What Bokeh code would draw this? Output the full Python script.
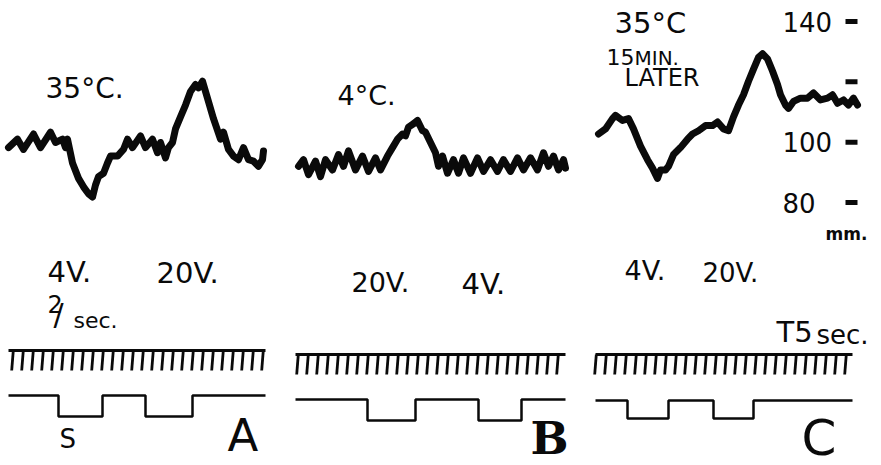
from bokeh.plotting import figure
from bokeh.models import Range1d
from bokeh.core.properties import value
from bokeh.embed import file_html
from bokeh.resources import INLINE

# ---------------- data ----------------
panel_names = ["A", "B", "C"]
temperature_labels = ["35°C.", "4°C.", "35°C"]

# blood pressure traces: time (s, from panel start) and pressure (mm Hg)
t_A = [0, 4.5, 7.5, 12.5, 16, 21, 23.5, 27, 28.5, 29.5, 32, 35, 37.5, 40, 42, 43.5, 45, 47.5,
       49.5, 51, 54.5, 57.5, 59.5, 62, 66, 68.5, 72, 74.5, 76, 78.5, 80, 82, 83.5, 86, 88.5, 91,
       93.5, 95, 97, 99.5, 102.5, 106, 107.5, 110, 112.5, 115, 117.5, 120, 122.5, 125, 127, 127.5]
p_A = [98.2, 101.0, 97.6, 102.7, 98.2, 103.3, 99.9, 101.0, 98.2, 101.0, 93.1, 88.0, 85.2, 82.9,
       81.8, 85.8, 88.6, 89.7, 93.1, 95.4, 95.4, 97.6, 101.0, 98.2, 102.1, 98.2, 101.0, 96.5, 99.9,
       94.8, 98.2, 99.9, 104.4, 108.4, 112.3, 116.8, 119.1, 118.0, 120.2, 114.6, 107.8, 101.0,
       103.3, 97.6, 95.4, 94.2, 98.2, 94.2, 93.7, 92.0, 94.2, 97.1]

t_B = [0.5, 3, 5.5, 9, 11.5, 14, 17.5, 20.5, 23, 25.5, 29, 32.5, 35.5, 39, 41.5, 45, 47.5, 50,
       52.5, 54, 55.5, 58, 60, 62.5, 64, 66.5, 69, 70.5, 72.5, 75, 78, 80.5, 83, 86.5, 90, 93,
       96.5, 100, 103, 106.5, 110, 113, 116.5, 120, 123, 125.5, 128, 130.5, 133, 134]
p_B = [92.0, 94.2, 89.2, 93.7, 88.6, 94.2, 90.8, 95.9, 92.0, 97.1, 90.8, 95.4, 90.3, 94.8, 90.8,
       95.4, 98.2, 101.0, 102.7, 102.1, 105.0, 106.1, 107.2, 103.8, 103.3, 99.9, 96.5, 92.0, 95.4,
       89.7, 94.2, 89.7, 94.8, 89.7, 94.8, 90.3, 94.2, 90.3, 94.2, 90.3, 94.8, 90.8, 94.8, 90.8,
       96.5, 92.0, 95.4, 90.8, 94.2, 91.4]

t_C = [1.5, 5, 8.5, 10, 13.5, 16.5, 19, 22.5, 26, 28.5, 31, 32.5, 35, 36.5, 39, 42.5, 46, 48.5,
       51.5, 55, 58.5, 61, 64, 66.5, 69, 71.5, 74, 76.5, 79, 81.5, 83.5, 86, 88.5, 91, 92.5, 95,
       96.5, 99, 102.5, 106, 109, 112.5, 116, 118.5, 121, 124, 126.5, 129, 131]
p_C = [102.7, 104.4, 107.8, 108.9, 107.2, 107.8, 104.4, 98.7, 94.2, 91.4, 88.0, 90.8, 90.8, 92.0,
       95.9, 98.2, 101.0, 102.7, 103.8, 105.5, 105.5, 106.7, 104.4, 103.8, 108.4, 112.3, 115.7,
       120.2, 124.2, 128.1, 129.3, 127.6, 123.6, 119.1, 115.7, 112.3, 111.2, 113.5, 114.6, 114.6,
       116.3, 114.0, 114.6, 115.7, 112.9, 114.0, 112.3, 114.6, 112.3]

# stimulation periods (s from panel start) and voltages
stim_on_A = [25, 68.5]
stim_off_A = [47, 92]
volts_A = ["4V.", "20V."]
stim_on_B = [35, 90.5]
stim_off_B = [59, 112]
volts_B = ["20V.", "4V."]
stim_on_C = [16, 59]
stim_off_C = [36.5, 79]
volts_C = ["4V.", "20V."]

# record length (s) and time marks (s) per panel
record_start = [0, -1, 0]
record_end = [128.5, 134, 128.5]
first_mark = [2, 0, 0]
last_mark = [127, 130, 125]
time_mark_interval = 5  # T 5 sec.

# pressure scale
scale_mm = [140, 120, 100, 80]
scale_labels = ["140", "", "100", "80"]

# ---------------- layout helpers ----------------
W, H = 881, 465
ORIGIN = 0
PX_PER_S = 2.0
MM_Y0, PX_PER_MM = 21.0, 3.017


def X(px):
    return (px - 8) / PX_PER_S


def Y(py):
    return 140 - (py - MM_Y0) / PX_PER_MM


panel_offset = [0, 144.5, 293.5]
timeline_px = [350, 354, 354]
stim_hi_px = [395, 399, 400]
stim_lo_px = [416, 420, 418]

p = figure(width=W, height=H, x_range=Range1d(X(ORIGIN), X(ORIGIN + W)),
           y_range=Range1d(Y(ORIGIN + H), Y(ORIGIN)),
           output_backend="svg", toolbar_location=None, min_border=0,
           x_axis_location=None, y_axis_location=None)
p.grid.visible = False
p.outline_line_color = None
p.background_fill_color = "white"
p.border_fill_color = "white"

INK = "#0a0a0a"
FONT = "DejaVu Sans"


def txt(s, px, py_mid, size, font=FONT, style="normal", align="left"):
    p.text(x=[X(px)], y=[Y(py_mid)], text=[s], text_font=value(font), text_font_size=f"{size}px",
           text_font_style=style, text_align=align, text_baseline="middle", text_color=INK)


traces = [(t_A, p_A), (t_B, p_B), (t_C, p_C)]
stims = [(stim_on_A, stim_off_A), (stim_on_B, stim_off_B), (stim_on_C, stim_off_C)]

for i in range(3):
    off = panel_offset[i]
    tt, pp = traces[i]
    p.line([off + t for t in tt], pp, line_color=INK, line_width=7, line_join="round", line_cap="round")

    # time marker line with 5 s ticks
    ly = Y(timeline_px[i])
    ty = Y(timeline_px[i] + 20)
    p.line([off + record_start[i], off + record_end[i]], [ly, ly], line_color=INK, line_width=3)
    marks = list(range(first_mark[i], last_mark[i] + 1, time_mark_interval))
    p.segment(x0=[off + m + 0.4 for m in marks], y0=[ly] * len(marks),
              x1=[off + m - 0.4 for m in marks], y1=[ty] * len(marks),
              line_color=INK, line_width=2.8)

    # stimulus signal
    hi, lo = Y(stim_hi_px[i]), Y(stim_lo_px[i])
    on, offt = stims[i]
    xs = [off + record_start[i]]
    ys = [hi]
    for a, b in zip(on, offt):
        xs += [off + a, off + a, off + b, off + b]
        ys += [hi, lo, lo, hi]
    xs.append(off + record_end[i])
    ys.append(hi)
    p.line(xs, ys, line_color=INK, line_width=2.5)

# temperature labels
txt(temperature_labels[0], 45, 88, 28)
txt(temperature_labels[1], 337, 95, 27)
txt(temperature_labels[2], 614, 22, 29)
txt("15", 606, 56, 22)
txt("MIN.", 634, 57, 20)
txt("LATER", 624, 77, 24)

# voltage labels
txt(volts_A[0], 47, 271, 29)
txt(volts_A[1], 156, 272, 29)
txt(volts_B[0], 351, 282, 27)
txt(volts_B[1], 461, 283, 29)
txt(volts_C[0], 624, 270, 27)
txt(volts_C[1], 702, 272, 26)

# frequency label
txt("2", 47, 303, 24)
txt("/", 53, 314, 30)
txt("sec.", 73, 320, 22)

# time marker label
txt("T5", 776, 331, 29)
txt("sec.", 816, 334, 26)

# S (stimulus) label and panel letters
txt("S", 59, 438, 26)
txt(panel_names[0], 227, 435, 45)
txt(panel_names[1], 530, 438, 45, font="DejaVu Serif", style="bold")
txt(panel_names[2], 801, 437, 50)

# pressure scale
sx0, sx1 = X(845), X(857)
p.segment(x0=[sx0] * len(scale_mm), y0=scale_mm, x1=[sx1] * len(scale_mm), y1=scale_mm,
          line_color=INK, line_width=5)
p.text(x=[X(782)] * len(scale_mm), y=scale_mm, text=scale_labels, text_font=value(FONT),
       text_font_size="26px", text_align="left", text_baseline="middle", text_color=INK)
txt("mm.", 825, 233, 17, style="bold")

open("out.html", "w").write(file_html(p, INLINE))
